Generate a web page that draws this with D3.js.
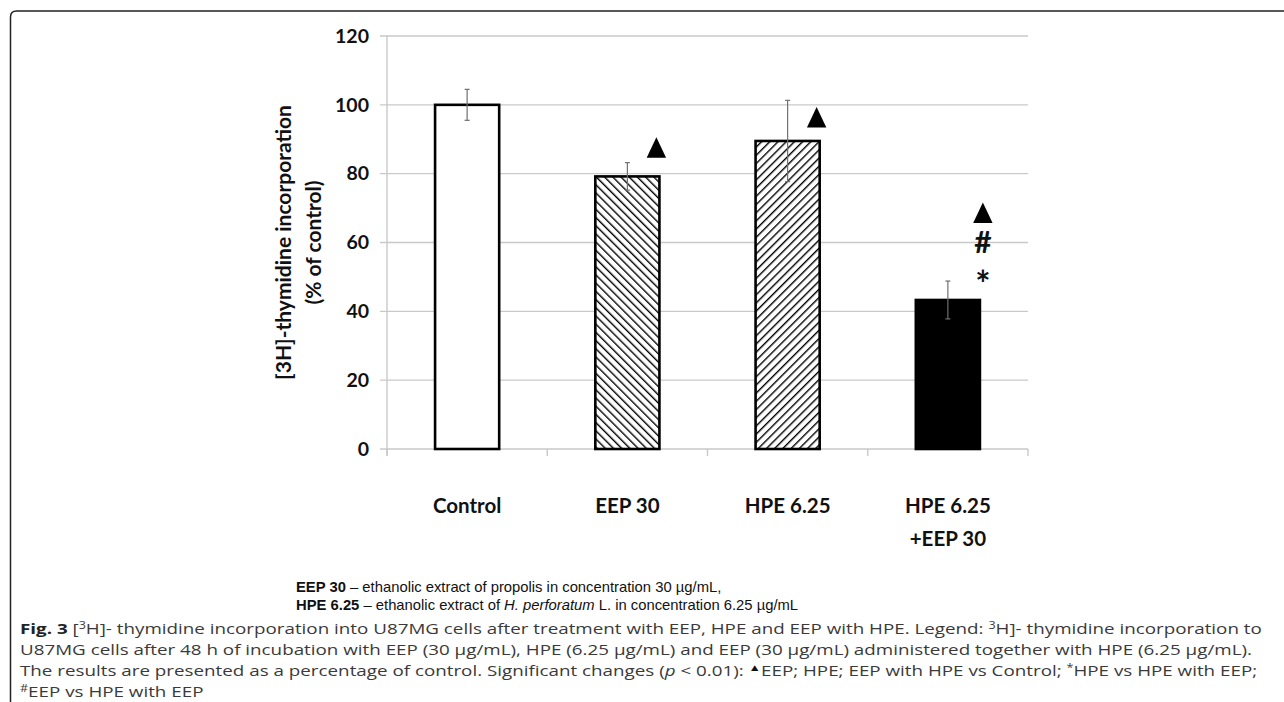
<!DOCTYPE html>
<html><head><meta charset="utf-8">
<script src="https://cdn.jsdelivr.net/npm/d3@7"></script>
<style>body{margin:0;background:#fff;} svg{display:block;}</style>
</head><body>
<script>
// ---- data ----
const categories = ["Control", "EEP 30", "HPE 6.25", "HPE 6.25\n+EEP 30"];
const values = [100, 79.2, 89.5, 43.3];
const errors = [4.5, 4.0, 11.8, 5.5];
const fills = ["white", "hatchBack", "hatchFwd", "black"];
const yTicks = [0, 20, 40, 60, 80, 100, 120];
// significance triangles: [category index, y value of marker center]
const triMarks = [[1, 87.5], [2, 96.3], [3, 68.6]];
// text significance marks on the combined bar: [symbol, y value of marker center]
const textMarks = [["#", 60.1], ["*", 50.0]];
const yTitle = ["[3H]-thymidine incorporation", "(% of control)"];

const W = 1284, H = 702;
const svg = d3.select("body").append("svg").attr("width", W).attr("height", H);

// frame
svg.append("path")
  .attr("d", "M10.5,702 L10.5,17 Q10.5,11 16.5,11 L1284,11")
  .attr("fill", "none").attr("stroke", "#222").attr("stroke-width", 1.5);

const defs = svg.append("defs");
function hatch(id, angle) {
  const p = defs.append("pattern").attr("id", id).attr("patternUnits", "userSpaceOnUse")
    .attr("width", 5.8).attr("height", 5.8).attr("patternTransform", `rotate(${angle})`);
  p.append("rect").attr("width", 5.8).attr("height", 5.8).attr("fill", "white");
  p.append("line").attr("x1", 0).attr("y1", 0).attr("x2", 0).attr("y2", 5.8)
    .attr("stroke", "black").attr("stroke-width", 2.8);
}
hatch("hatchBack", -45);
hatch("hatchFwd", 45);

const x = d3.scaleBand().domain(categories).range([387, 1028]).paddingInner(0).paddingOuter(0);
const y = d3.scaleLinear().domain([0, 120]).range([449, 36]);
const barW = x.bandwidth() * 0.4;
const tickFont = "Lato, 'Open Sans', sans-serif";

// gridlines
svg.append("g").selectAll("line").data(yTicks).join("line")
  .attr("x1", 380).attr("x2", 1028)
  .attr("y1", d => y(d)).attr("y2", d => y(d))
  .attr("stroke", "#c9c9c9").attr("stroke-width", 1.4);

// y axis
const yAxis = svg.append("g").attr("transform", "translate(387,0)")
  .call(d3.axisLeft(y).tickValues(yTicks).tickSize(0).tickPadding(18));
yAxis.select(".domain").attr("stroke", "#c9c9c9").attr("stroke-width", 1.4)
  .attr("d", `M0,${y(120)}V${y(0) + 7}`);
yAxis.selectAll("text").attr("font-family", tickFont).attr("font-weight", "bold")
  .attr("font-size", 19.5).attr("fill", "#111");

// x axis
const xAxis = svg.append("g").attr("transform", `translate(0,${y(0)})`)
  .call(d3.axisBottom(x).tickSize(0).tickFormat(""));
xAxis.select(".domain").remove();
const bounds = categories.map(c => x(c)).concat([x.range()[1]]);
svg.append("g").selectAll("line").data(bounds).join("line")
  .attr("x1", d => d).attr("x2", d => d).attr("y1", y(0)).attr("y2", y(0) + 7)
  .attr("stroke", "#c9c9c9").attr("stroke-width", 1.4);
xAxis.selectAll(".tick").each(function(d) {
  const t = d3.select(this);
  const lines = d.split("\n");
  const txt = t.append("text").attr("text-anchor", "middle").attr("fill", "#111")
    .attr("font-family", tickFont).attr("font-weight", "bold").attr("font-size", 20.5);
  lines.forEach((l, i) => txt.append("tspan").attr("x", 0).attr("y", 64 + i * 33).text(l));
});

// y title
const yt = svg.append("text").attr("transform", `translate(0,${(y(0) + y(120)) / 2}) rotate(-90)`)
  .attr("text-anchor", "middle").attr("font-family", tickFont).attr("font-weight", "bold")
  .attr("font-size", 21).attr("fill", "#111");
yTitle.forEach((l, i) => yt.append("tspan").attr("x", 0).attr("y", 291 + i * 30).text(l));

// bars
const cx = c => x(c) + x.bandwidth() / 2;
svg.append("g").selectAll("rect").data(categories).join("rect")
  .attr("x", d => cx(d) - barW / 2).attr("width", barW)
  .attr("y", (d, i) => y(values[i])).attr("height", (d, i) => y(0) - y(values[i]))
  .attr("fill", (d, i) => fills[i].startsWith("hatch") ? `url(#${fills[i]})` : fills[i])
  .attr("stroke", "black").attr("stroke-width", 2.6);

// error bars
const eb = svg.append("g").attr("stroke", "#707070").attr("stroke-width", 1.2);
categories.forEach((c, i) => {
  const hi = y(values[i] + errors[i]), lo = y(values[i] - errors[i]);
  eb.append("line").attr("x1", cx(c)).attr("x2", cx(c)).attr("y1", hi).attr("y2", lo);
  eb.append("line").attr("x1", cx(c) - 2.5).attr("x2", cx(c) + 2.5).attr("y1", hi).attr("y2", hi);
  eb.append("line").attr("x1", cx(c) - 2.5).attr("x2", cx(c) + 2.5).attr("y1", lo).attr("y2", lo);
});

// significance marks
const mg = svg.append("g");
triMarks.forEach(([ci, v]) => {
  const mx = cx(categories[ci]) + (ci === 3 ? 35 : 29);
  mg.append("path").attr("d", `M${mx},${y(v) - 10.5}L${mx + 9.7},${y(v) + 10}L${mx - 9.7},${y(v) + 10}Z`)
    .attr("fill", "black");
});
textMarks.forEach(([sym, v]) => {
  mg.append("text").attr("text-anchor", "middle").attr("font-family", tickFont)
    .attr("font-weight", "bold").attr("fill", "#111")
    .attr("x", cx(categories[3]) + 35).attr("y", y(v))
    .attr("dy", sym === "*" ? "0.55em" : "0.36em")
    .attr("font-size", sym === "*" ? 36 : 30).text(sym);
});

// legend text
const lg = svg.append("g").attr("font-family", "'Liberation Sans', Arial, sans-serif")
  .attr("font-size", 14.8).attr("fill", "#111");
const l1 = lg.append("text").attr("x", 296).attr("y", 592);
l1.append("tspan").attr("font-weight", "bold").text("EEP 30");
l1.append("tspan").text(" \u2013 ethanolic extract of propolis in concentration 30 \u00b5g/mL,");
const l2 = lg.append("text").attr("x", 296).attr("y", 610);
l2.append("tspan").attr("font-weight", "bold").text("HPE 6.25");
l2.append("tspan").text(" \u2013 ethanolic extract of ");
l2.append("tspan").attr("font-style", "italic").text("H. perforatum");
l2.append("tspan").text(" L. in concentration 6.25 \u00b5g/mL");

// caption
const cap = svg.append("g").attr("font-family", "'Open Sans', sans-serif")
  .attr("font-size", 15).attr("fill", "#3a3a3a");
const sup = (t, s) => t.append("tspan").attr("font-size", 10).attr("baseline-shift", 5).text(s);
const c1 = cap.append("text").attr("x", 0).attr("y", 634.5);
c1.append("tspan").attr("font-weight", "bold").attr("fill", "#222").text("Fig. 3");
c1.append("tspan").text(" [");
sup(c1, "3");
c1.append("tspan").text("H]- thymidine incorporation into U87MG cells after treatment with EEP, HPE and EEP with HPE. Legend: ");
sup(c1, "3");
c1.append("tspan").text("H]- thymidine incorporation to");
cap.append("text").attr("x", 0).attr("y", 655.5)
  .text("U87MG cells after 48 h of incubation with EEP (30 \u00b5g/mL), HPE (6.25 \u00b5g/mL) and EEP (30 \u00b5g/mL) administered together with HPE (6.25 \u00b5g/mL).");
const c3 = cap.append("text").attr("x", 0).attr("y", 676.5);
c3.append("tspan").text("The results are presented as a percentage of control. Significant changes (");
c3.append("tspan").attr("font-style", "italic").text("p");
c3.append("tspan").text(" < 0.01): ");
sup(c3, "\u25b2").attr("fill", "#111");
c3.append("tspan").text("EEP; HPE; EEP with HPE vs Control; ");
sup(c3, "*");
c3.append("tspan").text("HPE vs HPE with EEP;");
const c4 = cap.append("text").attr("x", 0).attr("y", 697.5);
sup(c4, "#");
c4.append("tspan").text("EEP vs HPE with EEP");
// stretch caption lines horizontally so the first line spans the frame width
const sx = 1242 / c1.node().getComputedTextLength();
cap.attr("transform", `translate(20,0) scale(${sx},1)`);
</script>
</body></html>
